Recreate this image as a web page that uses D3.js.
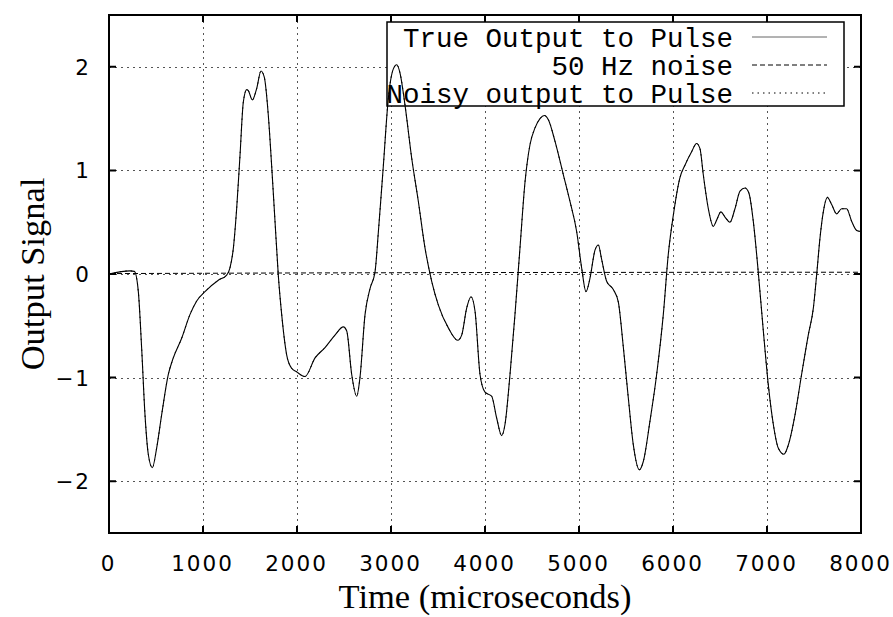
<!DOCTYPE html>
<html>
<head>
<meta charset="utf-8">
<script src="https://cdn.jsdelivr.net/npm/d3@7"></script>
<style>
  body { margin: 0; background: #fff; }
  svg { display: block; }
</style>
</head>
<body>
<div id="chart"></div>
<script>
// 1: DATA
const timeValues = [
    0, 223, 270, 312, 347, 383, 418, 461, 507, 560, 631, 684, 773, 862, 933, 1021,
    1163, 1252, 1287, 1323, 1358, 1394, 1429, 1465, 1482, 1525, 1571, 1617, 1652, 1695,
    1730, 1766, 1801, 1837, 1890, 1943, 1990, 2085, 2192, 2298, 2404, 2493, 2529, 2582,
    2635, 2670, 2724, 2777, 2830, 2866, 2919, 2972, 3025, 3061, 3096, 3149, 3220, 3291,
    3362, 3433, 3504, 3610, 3710, 3752, 3805, 3851, 3894, 3947, 4000, 4071, 4124, 4177,
    4213, 4266, 4319, 4372, 4426, 4479, 4532, 4585, 4631, 4674, 4745, 4833, 4904, 4975,
    5028, 5074, 5117, 5170, 5206, 5241, 5294, 5365, 5418, 5472, 5525, 5578, 5642, 5684,
    5755, 5826, 5897, 5950, 6004, 6074, 6127, 6198, 6251, 6287, 6322, 6376, 6429, 6464,
    6510, 6553, 6606, 6659, 6713, 6766, 6808, 6854, 6907, 6961, 7014, 7067, 7120, 7180,
    7227, 7298, 7368, 7439, 7493, 7528, 7564, 7599, 7642, 7688, 7741, 7794, 7847, 7900,
    7954, 8000
];
const trueOutput = [
    0.00, 0.03, 0.025, -0.17, -0.71, -1.36, -1.74, -1.87, -1.68, -1.36, -0.97, -0.81, -0.62, -0.39, -0.26, -0.17,
    -0.06, -0.01, 0.06, 0.25, 0.63, 1.15, 1.66, 1.78, 1.77, 1.68, 1.79, 1.96, 1.90, 1.53,
    1.05, 0.51, -0.01, -0.39, -0.78, -0.91, -0.94, -0.99, -0.81, -0.71, -0.59, -0.51, -0.55, -0.97,
    -1.18, -1.00, -0.39, -0.14, 0.02, 0.41, 1.05, 1.70, 1.98, 2.02, 1.94, 1.63, 1.12, 0.70,
    0.25, -0.07, -0.30, -0.52, -0.64, -0.59, -0.33, -0.22, -0.36, -0.97, -1.14, -1.18, -1.39, -1.56,
    -1.45, -0.97, -0.39, 0.25, 0.89, 1.25, 1.41, 1.50, 1.53, 1.49, 1.28, 0.96, 0.70, 0.41,
    0.06, -0.17, -0.04, 0.23, 0.28, 0.14, -0.07, -0.15, -0.27, -0.71, -1.20, -1.65, -1.89, -1.81,
    -1.42, -0.97, -0.39, 0.19, 0.57, 0.93, 1.05, 1.18, 1.26, 1.21, 0.96, 0.63, 0.46, 0.52,
    0.60, 0.55, 0.50, 0.63, 0.80, 0.83, 0.78, 0.51, 0.02, -0.55, -1.07, -1.45, -1.68, -1.74,
    -1.65, -1.36, -0.97, -0.59, -0.33, -0.01, 0.35, 0.60, 0.74, 0.67, 0.58, 0.63, 0.63, 0.51,
    0.42, 0.41
];
// the noisy curve sits right on top of the true one
const noisyOutput = trueOutput.slice();

const noiseTimes = [0, 1000, 2000, 3000, 4000, 5000, 6000, 7000, 8000];
const noiseValues = [0.004, 0.007, 0.010, 0.012, 0.014, 0.015, 0.016, 0.017, 0.017];

const xTicks = [0, 1000, 2000, 3000, 4000, 5000, 6000, 7000, 8000];
const yTicks = [-2, -1, 0, 1, 2];

const legendLabels = ["True Output to Pulse", "50 Hz noise", "Noisy output to Pulse"];

// 2: SIZES
const W = 893, H = 617;
const margin = { top: 15, right: 32, bottom: 84, left: 109 };

const svg = d3.select("#chart")
    .append("svg")
    .attr("width", W)
    .attr("height", H);

// 3: SCALES
const x = d3.scaleLinear()
    .domain([0, 8000])
    .range([margin.left, W - margin.right]);

const y = d3.scaleLinear()
    .domain([-2.5, 2.5])
    .range([H - margin.bottom, margin.top]);

// 4: GRID
const grid = svg.append("g")
    .attr("stroke", "#555")
    .attr("stroke-width", 1)
    .attr("stroke-dasharray", "2,4");

grid.selectAll(".vgrid")
    .data(xTicks.filter(d => d > 0 && d < 8000))
    .enter()
    .append("line")
    .attr("x1", d => Math.round(x(d)) + 0.5)
    .attr("x2", d => Math.round(x(d)) + 0.5)
    .attr("y1", y(2.5))
    .attr("y2", y(-2.5));

grid.selectAll(".hgrid")
    .data(yTicks)
    .enter()
    .append("line")
    .attr("x1", x(0))
    .attr("x2", x(8000))
    .attr("y1", d => Math.round(y(d)) + 0.5)
    .attr("y2", d => Math.round(y(d)) + 0.5);

// legend box covers the grid, curves are drawn over it
const key = { x: 387, y: 22, w: 457, h: 84, rowH: 28, textX: 733, s1: 752, s2: 827 };
svg.append("rect")
    .attr("x", key.x)
    .attr("y", key.y)
    .attr("width", key.w)
    .attr("height", key.h)
    .attr("fill", "#fff");

// 5: CURVES
const line = d3.line()
    .x(d => x(d[0]))
    .y(d => y(d[1]))
    .curve(d3.curveMonotoneX);

const trueData = timeValues.map((t, i) => [t, trueOutput[i]]);
const noisyData = timeValues.map((t, i) => [t, noisyOutput[i]]);
const noiseData = noiseTimes.map((t, i) => [t, noiseValues[i]]);

svg.append("path")
    .datum(noiseData)
    .attr("fill", "none")
    .attr("stroke", "#000")
    .attr("stroke-width", 1)
    .attr("stroke-dasharray", "5,3")
    .attr("d", line);

svg.append("path")
    .datum(trueData)
    .attr("fill", "none")
    .attr("stroke", "#000")
    .attr("stroke-width", 1.1)
    .attr("d", line);

svg.append("path")
    .datum(noisyData)
    .attr("fill", "none")
    .attr("stroke", "#000")
    .attr("stroke-width", 1)
    .attr("stroke-dasharray", "1.5,4")
    .attr("d", line);

// 6: FRAME AND TICKS
const x0 = x(0), x1 = x(8000), yT = y(2.5), yB = y(-2.5);
const tickLen = 7;

const frame = svg.append("g")
    .attr("stroke", "#000")
    .attr("stroke-width", 2);

frame.append("rect")
    .attr("x", x0)
    .attr("y", yT)
    .attr("width", x1 - x0)
    .attr("height", yB - yT)
    .attr("fill", "none");

frame.selectAll(".xt")
    .data(xTicks)
    .enter()
    .append("path")
    .attr("d", d => `M${x(d)},${yB}v${-tickLen}M${x(d)},${yT}v${tickLen}`);

frame.selectAll(".yt")
    .data(yTicks)
    .enter()
    .append("path")
    .attr("d", d => `M${x0},${y(d)}h${tickLen}M${x1},${y(d)}h${-tickLen}`);

// tick labels
svg.selectAll(".xlab")
    .data(xTicks)
    .enter()
    .append("text")
    .attr("x", d => x(d) - 0.5)
    .attr("y", 571)
    .attr("text-anchor", "middle")
    .style("font-family", "DejaVu Sans")
    .style("font-size", "21.5px")
    .style("letter-spacing", "2px")
    .text(d => d);

svg.selectAll(".ylab")
    .data(yTicks)
    .enter()
    .append("text")
    .attr("x", 91)
    .attr("y", d => y(d) + 8)
    .attr("text-anchor", "end")
    .style("font-family", "DejaVu Sans")
    .style("font-size", "21.5px")
    .style("letter-spacing", "2px")
    .text(d => d < 0 ? "\u2212" + Math.abs(d) : d);

// 7: AXIS TITLES
svg.append("text")
    .attr("x", (x0 + x1) / 2)
    .attr("y", 608)
    .attr("text-anchor", "middle")
    .style("font-family", "Liberation Serif")
    .style("font-size", "34.5px")
    .text("Time (microseconds)");

svg.append("text")
    .attr("transform", `translate(44, ${(yT + yB) / 2}) rotate(-90)`)
    .attr("text-anchor", "middle")
    .style("font-family", "Liberation Serif")
    .style("font-size", "34.5px")
    .text("Output Signal");

// 8: LEGEND
svg.append("rect")
    .attr("x", key.x)
    .attr("y", key.y)
    .attr("width", key.w)
    .attr("height", key.h)
    .attr("fill", "none")
    .attr("stroke", "#000")
    .attr("stroke-width", 1.5);

const sampleStyles = [
    { color: "#666", dash: null },
    { color: "#000", dash: "5,3" },
    { color: "#000", dash: "1.5,4" }
];

legendLabels.forEach((label, i) => {
    const cy = key.y + 15 + i * key.rowH;
    svg.append("text")
        .attr("x", key.textX)
        .attr("y", cy + 10)
        .attr("text-anchor", "end")
        .style("font-family", "Liberation Mono")
        .style("font-size", "27.5px")
        .text(label);
    svg.append("line")
        .attr("x1", key.s1)
        .attr("x2", key.s2)
        .attr("y1", cy)
        .attr("y2", cy)
        .attr("stroke", sampleStyles[i].color)
        .attr("stroke-width", 1)
        .attr("stroke-dasharray", sampleStyles[i].dash);
});
</script>
</body>
</html>
